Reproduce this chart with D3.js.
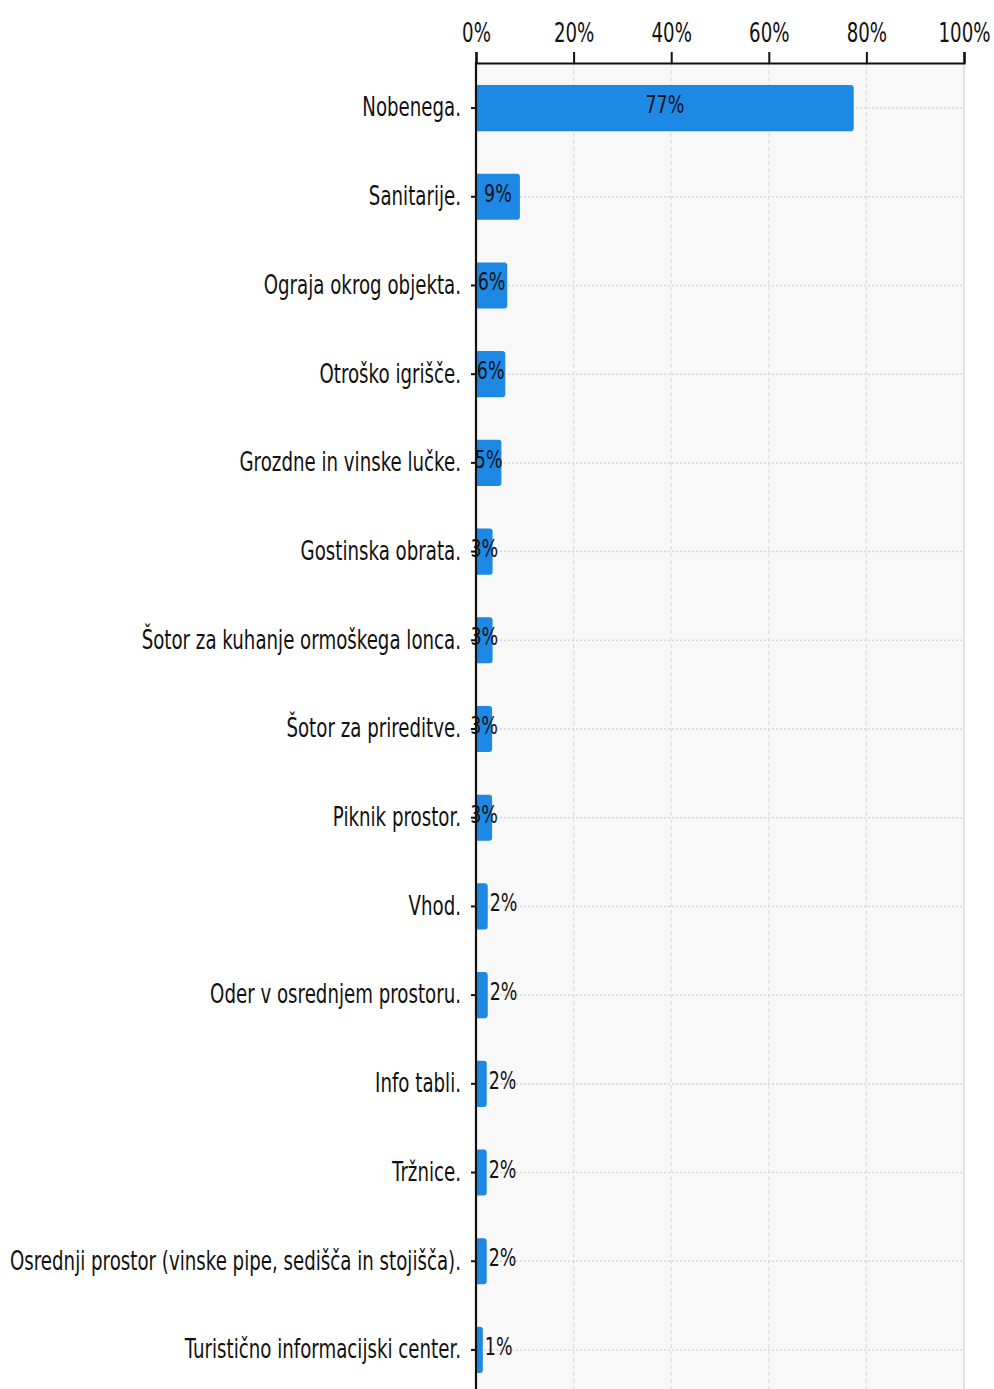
<!DOCTYPE html>
<html>
<head>
<meta charset="utf-8">
<script src="https://cdn.jsdelivr.net/npm/d3@7"></script>
<style>
  html, body { margin: 0; padding: 0; background: #ffffff; }
  svg { display: block; font-family: "DejaVu Sans", Verdana, sans-serif; }
</style>
</head>
<body>
<svg id="chart" width="994" height="1389"></svg>
<script>
// Survey answers (share of respondents, %)
const categories = [
  "Nobenega.",
  "Sanitarije.",
  "Ograja okrog objekta.",
  "Otroško igrišče.",
  "Grozdne in vinske lučke.",
  "Gostinska obrata.",
  "Šotor za kuhanje ormoškega lonca.",
  "Šotor za prireditve.",
  "Piknik prostor.",
  "Vhod.",
  "Oder v osrednjem prostoru.",
  "Info tabli.",
  "Tržnice.",
  "Osrednji prostor (vinske pipe, sedišča in stojišča).",
  "Turistično informacijski center."
];
const values = [77.4, 9.0, 6.4, 6.0, 5.2, 3.4, 3.4, 3.3, 3.3, 2.4, 2.4, 2.2, 2.2, 2.2, 1.4];
const xTicks = [0, 20, 40, 60, 80, 100];

const W = 994, H = 1389;
const margin = { top: 63, left: 476, right: 30 };
const plotRight = W - margin.right;   // 964
const plotBottom = 1395;              // plot continues past the lower edge
const squeeze = 0.70;                 // condensed lettering

const svg = d3.select("#chart");

const x = d3.scaleLinear().domain([0, 100]).range([margin.left, plotRight]);
const y = d3.scaleBand().domain(categories)
  .range([margin.top, plotBottom])
  .paddingInner(0.48).paddingOuter(0.248);

// plot background
svg.append("rect")
  .attr("x", x(0)).attr("y", margin.top)
  .attr("width", x(100) - x(0)).attr("height", plotBottom - margin.top)
  .attr("fill", "#f8f8f8");

// vertical grid
svg.append("g").selectAll("line")
  .data(xTicks.filter(d => d > 0 && d < 100))
  .join("line")
  .attr("x1", d => x(d)).attr("x2", d => x(d))
  .attr("y1", margin.top).attr("y2", plotBottom)
  .attr("stroke", "#dcdcdc").attr("stroke-width", 1.2)
  .attr("stroke-dasharray", "4,3");

svg.append("line")
  .attr("x1", x(100)).attr("x2", x(100))
  .attr("y1", margin.top).attr("y2", plotBottom)
  .attr("stroke", "#e2e2e2").attr("stroke-width", 2);

// horizontal guide per category
svg.append("g").selectAll("line")
  .data(categories)
  .join("line")
  .attr("x1", x(0)).attr("x2", x(100))
  .attr("y1", d => y(d) + y.bandwidth() / 2)
  .attr("y2", d => y(d) + y.bandwidth() / 2)
  .attr("stroke", "#d6d6d6").attr("stroke-width", 1.5)
  .attr("stroke-dasharray", "2,2");

// bars
const data = categories.map((c, i) => ({ c, v: values[i] }));
svg.append("g").selectAll("path")
  .data(data)
  .join("path")
  .attr("fill", "#1e88e5")
  .attr("d", d => {
    const x0 = x(0), x1 = x(d.v), y0 = y(d.c), h = y.bandwidth();
    const r = Math.min(3, (x1 - x0) / 2);
    return `M${x0},${y0}H${x1 - r}Q${x1},${y0} ${x1},${y0 + r}V${y0 + h - r}Q${x1},${y0 + h} ${x1 - r},${y0 + h}H${x0}Z`;
  });

// value labels
const fmt = d => d3.format(".0f")(d) + "%";
svg.append("g").selectAll("text")
  .data(data)
  .join("text")
  .attr("font-size", 25)
  .attr("fill", "#111")
  .attr("text-anchor", d => d.v >= 3 ? "middle" : "start")
  .attr("transform", d => {
    const cx = d.v >= 3 ? (x(0) + x(d.v)) / 2 : x(d.v) + 2;
    const cy = y(d.c) + y.bandwidth() / 2 + 5;
    return `translate(${cx},${cy}) scale(${squeeze},1)`;
  })
  .text(d => fmt(d.v));

// top axis
const xAxis = d3.axisTop(x).tickValues(xTicks).tickFormat(d => d + "%")
  .tickSizeInner(11).tickSizeOuter(11).tickPadding(10);
const gx = svg.append("g").attr("transform", `translate(0,${margin.top})`).call(xAxis);
gx.select(".domain").attr("stroke", "#111").attr("stroke-width", 2.2);
gx.selectAll(".tick line").attr("stroke", "#111").attr("stroke-width", 2);
gx.selectAll(".tick text").each(function () {
  const t = d3.select(this);
  const ty = +t.attr("y");
  t.attr("y", null).attr("dy", null)
    .attr("transform", `translate(0,${ty}) scale(${squeeze},1)`)
    .attr("font-size", 26).attr("fill", "#111")
    .attr("font-family", "DejaVu Sans, Verdana, sans-serif");
});

// left axis
const yAxis = d3.axisLeft(y).tickSizeInner(5).tickSizeOuter(0).tickPadding(10);
const gy = svg.append("g").attr("transform", `translate(${margin.left},0)`).call(yAxis);
gy.select(".domain").remove();
gy.selectAll(".tick line").attr("stroke", "#111").attr("stroke-width", 2);
gy.selectAll(".tick text").each(function () {
  const t = d3.select(this);
  const tx = +t.attr("x");
  t.attr("x", null).attr("dy", "0.32em")
    .attr("transform", `translate(${tx},0) scale(${squeeze},1)`)
    .attr("font-size", 26).attr("fill", "#111")
    .attr("font-family", "DejaVu Sans, Verdana, sans-serif");
});
svg.append("line")
  .attr("x1", x(0)).attr("x2", x(0))
  .attr("y1", margin.top - 1).attr("y2", H)
  .attr("stroke", "#111").attr("stroke-width", 2.2);
</script>
</body>
</html>
